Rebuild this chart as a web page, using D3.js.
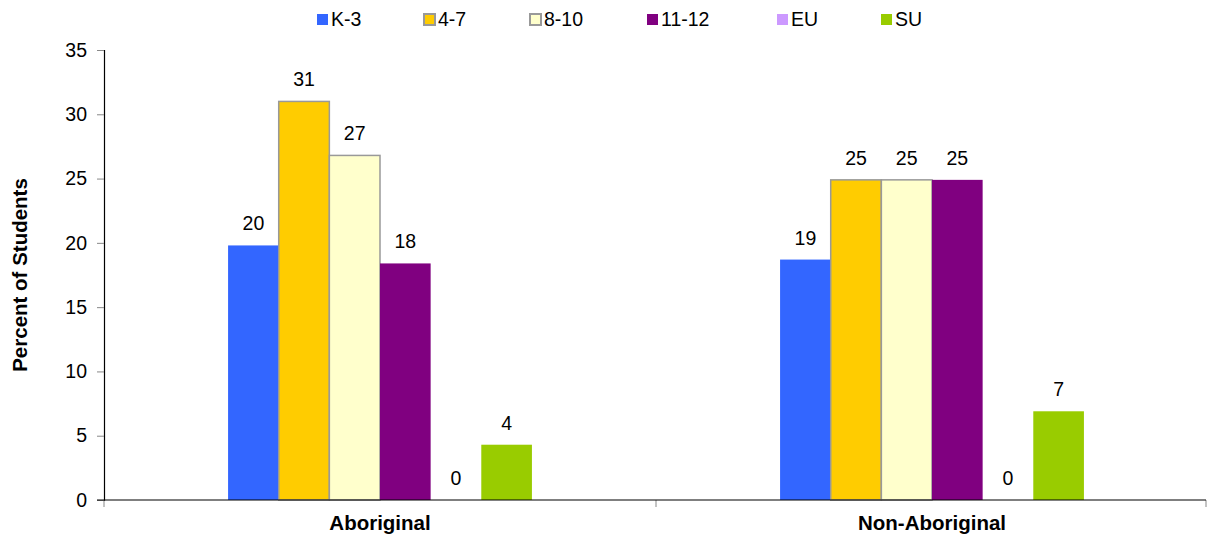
<!DOCTYPE html>
<html>
<head>
<meta charset="utf-8">
<script src="https://cdn.jsdelivr.net/npm/d3@7"></script>
<style>
  body { margin: 0; background: #fff; }
  text { font-family: "Liberation Sans", Arial, sans-serif; }
</style>
</head>
<body>
<script>
// data
const categories = ["Aboriginal", "Non-Aboriginal"];
const seriesNames = ["K-3", "4-7", "8-10", "11-12", "EU", "SU"];
const aboriginal = [19.8, 31.0, 26.8, 18.4, 0, 4.3];
const nonAboriginal = [18.7, 24.9, 24.9, 24.9, 0, 6.9];
const yTicks = [0, 5, 10, 15, 20, 25, 30, 35];

const colors = ["#3366FF", "#FFCC00", "#FFFFCC", "#800080", "#CC99FF", "#99CC00"];
const outlined = [false, true, true, false, false, false];

const values = [aboriginal, nonAboriginal];
const W = 1209, H = 538;
const plotLeft = 104, plotRight = 1208, plotTop = 50, plotBottom = 500;

const svg = d3.select("body").append("svg")
  .attr("width", W)
  .attr("height", H);

const x0 = d3.scaleBand().domain(categories).range([plotLeft, plotRight]).padding(0);
const x1 = d3.scaleBand().domain(seriesNames).range([0, x0.bandwidth()])
  .paddingInner(0).paddingOuter(2.45);
const y = d3.scaleLinear().domain([0, 35]).range([plotBottom, plotTop]);

// bars
categories.forEach((cat, ci) => {
  const g = svg.append("g").attr("transform", `translate(${x0(cat)},0)`);
  seriesNames.forEach((s, si) => {
    const v = values[ci][si];
    g.append("rect")
      .attr("x", x1(s))
      .attr("y", y(v))
      .attr("width", x1.bandwidth())
      .attr("height", y(0) - y(v))
      .attr("fill", colors[si])
      .attr("stroke", outlined[si] ? "#999" : "none")
      .attr("stroke-width", 1.5);
    g.append("text")
      .attr("x", x1(s) + x1.bandwidth() / 2)
      .attr("y", y(v) - 15)
      .attr("text-anchor", "middle")
      .attr("font-size", 19.5)
      .attr("fill", "#000")
      .text(Math.round(v));
  });
});

// y axis
const yAxis = svg.append("g")
  .attr("transform", `translate(${plotLeft},0)`)
  .call(d3.axisLeft(y).tickValues(yTicks).tickSize(7).tickPadding(10));
yAxis.select(".domain").attr("stroke", "#000").attr("stroke-width", 1.2);
yAxis.selectAll(".tick line").attr("stroke", "#888");
yAxis.selectAll(".tick text").attr("font-size", 19.5).attr("fill", "#000")
  .attr("font-family", "Liberation Sans, Arial, sans-serif");

// x axis
const xAxis = svg.append("g")
  .attr("transform", `translate(0,${plotBottom})`)
  .call(d3.axisBottom(x0).tickSize(0).tickPadding(15));
xAxis.select(".domain").remove();
xAxis.selectAll(".tick text").attr("font-size", 20.5).attr("font-weight", "bold")
  .attr("fill", "#000").attr("font-family", "Liberation Sans, Arial, sans-serif");

const bounds = categories.map(c => x0(c)).concat([x0(categories[categories.length - 1]) + x0.bandwidth() - 2]);
xAxis.selectAll(".bound").data(bounds).join("line")
  .attr("x1", d => d).attr("x2", d => d)
  .attr("y1", 0).attr("y2", 7)
  .attr("stroke", "#888");
xAxis.append("line")
  .attr("x1", plotLeft - 7).attr("x2", plotRight - 2)
  .attr("y1", 0).attr("y2", 0)
  .attr("stroke", "#000").attr("stroke-width", 1.2);

// y title
svg.append("text")
  .attr("transform", `translate(27,${(plotTop + plotBottom) / 2}) rotate(-90)`)
  .attr("text-anchor", "middle")
  .attr("font-size", 20.5)
  .attr("font-weight", "bold")
  .text("Percent of Students");

// legend
const legendX = [317, 424, 530, 647, 777, 881];
const legend = svg.append("g");
seriesNames.forEach((s, i) => {
  legend.append("rect")
    .attr("x", legendX[i]).attr("y", 14)
    .attr("width", 11).attr("height", 11)
    .attr("fill", colors[i])
    .attr("stroke", outlined[i] ? "#999" : "none")
    .attr("stroke-width", 2);
  legend.append("text")
    .attr("x", legendX[i] + 14).attr("y", 26)
    .attr("font-size", 19.5)
    .text(s);
});
</script>
</body>
</html>
